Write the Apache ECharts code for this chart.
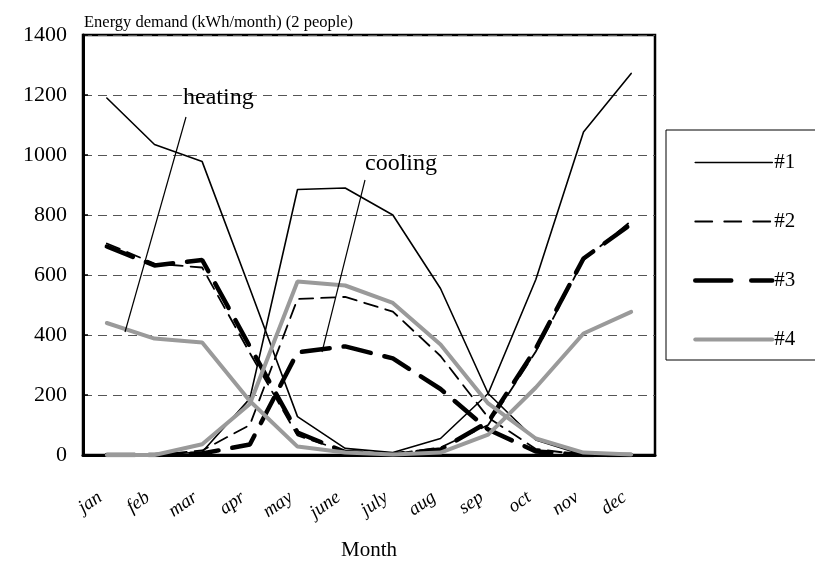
<!DOCTYPE html>
<html>
<head>
<meta charset="utf-8">
<script src="https://cdn.jsdelivr.net/npm/echarts@6/dist/echarts.min.js"></script>
<style>
  html, body { margin: 0; padding: 0; background: #fff; }
  #main { width: 815px; height: 566px; }
</style>
</head>
<body>
<div id="main"></div>
<script>
// months on the x axis
const months = ['jan', 'feb', 'mar', 'apr', 'may', 'june', 'july', 'aug', 'sep', 'oct', 'nov', 'dec'];
const yTicks = [0, 200, 400, 600, 800, 1000, 1200, 1400];

// kWh/month
const heat1 = [1190, 1035, 978, 555, 128, 22, 8, 55, 205, 585, 1077, 1272];
const cool1 = [0, 0, 10, 188, 885, 890, 800, 555, 205, 50, 0, 0];
const heat2 = [705, 638, 625, 340, 65, 12, 3, 25, 100, 345, 650, 780];
const cool2 = [0, 0, 15, 100, 520, 527, 478, 330, 125, 20, 0, 0];
const heat3 = [695, 632, 650, 362, 75, 10, 2, 18, 110, 355, 655, 770];
const cool3 = [0, 0, 5, 35, 342, 362, 322, 220, 85, 12, 0, 0];
const heat4 = [440, 388, 375, 180, 28, 8, 2, 8, 68, 225, 405, 477];
const cool4 = [0, 0, 36, 170, 578, 565, 507, 368, 172, 55, 8, 2];

const serif = "'Liberation Serif', 'DejaVu Serif', serif";

const styles = {
  '#1': { color: '#000', width: 1.6, type: 'solid' },
  '#2': { color: '#000', width: 1.8, type: [14, 8] },
  '#3': { color: '#000', width: 4.5, type: [28, 14] },
  '#4': { color: '#9a9a9a', width: 4, type: 'solid' }
};

function line(name, data) {
  const s = styles[name];
  return {
    name: name,
    type: 'line',
    data: data,
    symbol: 'none',
    animation: false,
    lineStyle: { color: s.color, width: s.width, type: s.type, cap: 'round' },
    itemStyle: { color: s.color }
  };
}

function legendItem(name) {
  const s = styles[name];
  return {
    name: name,
    itemStyle: { opacity: 0 },
    lineStyle: { color: s.color, width: s.width, type: name === '#2' ? [17, 12] : (name === '#3' ? [36, 20] : s.type), cap: 'round' }
  };
}

const chart = echarts.init(document.getElementById('main'));

const option = {
  animation: false,
  title: {
    text: 'Energy demand (kWh/month) (2 people)',
    left: 79,
    top: 9,
    textStyle: { fontFamily: serif, fontSize: 16.5, fontWeight: 'normal', color: '#000' }
  },
  grid: {
    left: 83, right: 160, top: 35, bottom: 105,
    show: true, borderColor: '#000', borderWidth: 2.5
  },
  legend: {
    orient: 'vertical',
    left: 666,
    top: 130,
    data: ['#1', '#2', '#3', '#4'].map(legendItem),
    itemWidth: 77,
    itemHeight: 14,
    itemGap: 38,
    padding: [22, 40, 10, 27],
    borderColor: '#000',
    borderWidth: 1,
    textStyle: { fontFamily: serif, fontSize: 21, color: '#000', padding: [0, 0, 0, -3] }
  },
  xAxis: {
    type: 'category',
    data: months,
    boundaryGap: true,
    name: 'Month',
    nameLocation: 'middle',
    nameGap: 85,
    nameTextStyle: { fontFamily: serif, fontSize: 21, color: '#000' },
    axisLine: { lineStyle: { color: '#000', width: 3 } },
    axisTick: { inside: true, length: 6, lineStyle: { color: '#000', width: 1.5 } },
    axisLabel: { rotate: 35, margin: 36, padding: [0, 8, 0, 0], fontFamily: serif, fontStyle: 'italic', fontSize: 19, color: '#000' }
  },
  yAxis: {
    type: 'value',
    min: yTicks[0],
    max: yTicks[yTicks.length - 1],
    interval: 200,
    axisLine: { show: true, lineStyle: { color: '#000', width: 3 } },
    axisTick: { show: true, inside: true, length: 5, lineStyle: { color: '#000', width: 1.5 } },
    axisLabel: { margin: 16, fontFamily: serif, fontSize: 22, color: '#000', formatter: v => String(v) },
    splitLine: { lineStyle: { color: '#555', width: 1, type: [9, 6] } }
  },
  series: [
    line('#1', heat1), line('#1', cool1),
    line('#2', heat2), line('#2', cool2),
    line('#3', heat3), line('#3', cool3),
    line('#4', heat4), line('#4', cool4)
  ],
  graphic: [
    { type: 'line', shape: { x1: 186, y1: 117, x2: 125, y2: 332 }, style: { stroke: '#000', lineWidth: 1.2 }, z: 100 },
    { type: 'line', shape: { x1: 365, y1: 180, x2: 322, y2: 352 }, style: { stroke: '#000', lineWidth: 1.2 }, z: 100 },
    { type: 'text', left: 183, top: 86, style: { text: 'heating', fontFamily: serif, fontSize: 24, fill: '#000' }, z: 100 },
    { type: 'text', left: 365, top: 152, style: { text: 'cooling', fontFamily: serif, fontSize: 24, fill: '#000' }, z: 100 }
  ]
};

chart.setOption(option);
</script>
</body>
</html>
